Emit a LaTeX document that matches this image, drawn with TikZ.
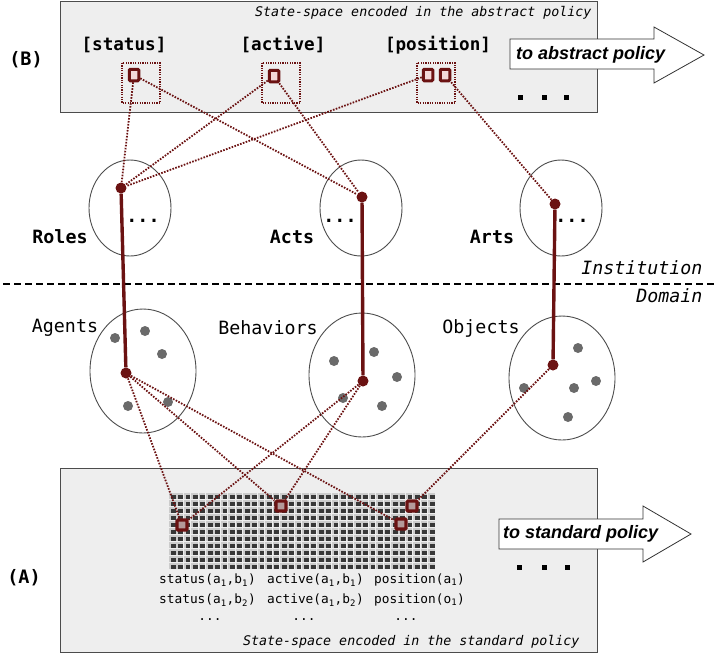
\documentclass[tikz,border=0pt]{standalone}
\usepackage{fontspec}
\setmainfont{Liberation Sans}
\setmonofont{DejaVu Sans Mono}
\usepackage{tikz}

\definecolor{boxgray}{HTML}{EEEEEE}
\definecolor{linkred}{HTML}{6B1212}
\definecolor{pinkfill}{HTML}{F4D8D8}
\definecolor{cellfill}{HTML}{B49A9A}
\definecolor{spotgray}{HTML}{6A6A6A}
\definecolor{cellgray}{HTML}{383838}

\newcommand{\lo}[1]{\textsubscript{#1}}

\begin{document}
\begin{tikzpicture}[x=1pt,y=-1pt,
  layerbox/.style={draw=black!70,fill=boxgray,line width=1pt},
  setring/.style={draw=black!70,line width=0.9pt},
  rdot/.style={circle,fill=linkred,inner sep=0pt,minimum size=11pt},
  topsq/.style={draw=linkred,fill=pinkfill,line width=3pt,inner sep=0pt,minimum width=9.5pt,minimum height=11.5pt,rounded corners=1pt},
  cellsq/.style={draw=linkred,fill=cellfill,line width=3.2pt,inner sep=0pt,minimum size=10pt,rounded corners=1pt},
  dotlink/.style={draw=linkred,line width=1.8pt,dash pattern=on 1.6pt off 1.4pt},
  solidtie/.style={draw=linkred,line width=3.4pt},
  pickbox/.style={draw=linkred,line width=1.3pt,dash pattern=on 1.2pt off 1.2pt},
  sepline/.style={line width=2.7pt,dash pattern=on 7pt off 4pt},
  flow/.style={draw=black!80,fill=white,line width=0.8pt},
  attr/.style={font=\ttfamily\bfseries\fontsize{17.6}{20}\selectfont},
  lvl/.style={font=\ttfamily\bfseries\fontsize{18.3}{20}\selectfont},
  dom/.style={font=\ttfamily\fontsize{18.3}{20}\selectfont},
  sidenote/.style={font=\ttfamily\itshape\fontsize{18.3}{20}\selectfont,anchor=east},
  capnote/.style={font=\ttfamily\itshape\fontsize{13.3}{15}\selectfont,anchor=east},
  fluent/.style={font=\ttfamily\fontsize{12.8}{14}\selectfont,anchor=west,inner sep=0pt},
  parttag/.style={font=\ttfamily\bfseries\fontsize{18.5}{20}\selectfont},
  flowtxt/.style={font=\bfseries\itshape\fontsize{18}{20}\selectfont,anchor=west,inner sep=0pt}]
\useasboundingbox (0,0) rectangle (717,657);

\draw[layerbox] (60,1) rectangle (597,112);
\node[capnote] (abscap) at (595,13) {State-space encoded in the abstract policy};
\node[parttag] (tagb) at (26,60) {(B)};
\node[attr] (tstatus) at (124,45) {[status]};
\node[attr] (tactive) at (283,45) {[active]};
\node[attr] (tposition) at (438,45) {[position]};
\draw[pickbox] (122,63) rectangle (160,103);
\draw[pickbox] (262,63) rectangle (300,103);
\draw[pickbox] (417,63) rectangle (455,103);
\node[topsq] (sqstatus) at (134,75) {};
\node[topsq] (sqactive) at (274,76) {};
\node[topsq] (sqposa) at (428,75) {};
\node[topsq] (sqposb) at (445,75) {};
\draw[flow] (510,39) -- (654,39) -- (654,27) -- (704,55) -- (654,83) -- (654,69) -- (510,69) -- cycle;
\node[flowtxt] (toabs) at (516,55) {to abstract policy};
\foreach \x in {520,544,566}
  \fill (\x-2.5,94.5) rectangle ++(5,5);

\draw[setring] (130,208) ellipse (41 and 48);
\draw[setring] (361,208) ellipse (41 and 48);
\draw[setring] (561,208) ellipse (41 and 48);
\node[lvl] (rolestxt) at (60,237) {Roles};
\node[lvl] (actstxt) at (292,237) {Acts};
\node[lvl] (artstxt) at (492,237) {Arts};
\node[lvl,anchor=base] (rolesmore) at (143,222) {...};
\node[lvl,anchor=base] (actsmore) at (340,222) {...};
\node[lvl,anchor=base] (artsmore) at (572,222) {...};

\draw[sepline] (3,284) -- (717,284);
\node[sidenote] (inst) at (706,268) {Institution};
\node[sidenote] (domn) at (706,296) {Domain};

\draw[setring] (143,371) ellipse (53 and 62);
\draw[setring] (362,375) ellipse (53 and 62);
\draw[setring] (562,378) ellipse (53 and 62);
\node[dom] (agentstxt) at (65,328) {Agents};
\node[dom] (behavtxt) at (268,328) {Behaviors};
\node[dom] (objstxt) at (481,328) {Objects};
\foreach \p in {(115,338),(145,331),(162,354),(128,406),(168,402),
                (334,361),(374,352),(397,377),(343,398),(382,406),
                (578,348),(596,381),(574,388),(524,388),(568,417)}
  \fill[spotgray] \p circle (5);

\draw[layerbox] (60,468) rectangle (597,652);
\foreach \i in {0,...,35}
  \foreach \j in {0,...,10} {
    \fill[gray!40] (169+\i*7.4,493+\j*7) rectangle ++(6.6,6.4);
    \fill[cellgray] (170.8+\i*7.4,494.6+\j*7) rectangle ++(4.8,4.8);
  }
\node[cellsq] (gstatus) at (182,525) {};
\node[cellsq] (gactive) at (281,506) {};
\node[cellsq] (gposa) at (412,506) {};
\node[cellsq] (gposb) at (401,524) {};
\node[fluent] (st1) at (159,580) {status(a\lo{1},b\lo{1})};
\node[fluent] (st2) at (159,600) {status(a\lo{1},b\lo{2})};
\node[fluent] (ac1) at (267,580) {active(a\lo{1},b\lo{1})};
\node[fluent] (ac2) at (267,600) {active(a\lo{1},b\lo{2})};
\node[fluent] (po1) at (374,580) {position(a\lo{1})};
\node[fluent] (po2) at (374,600) {position(o\lo{1})};
\node[fluent,anchor=base] (stmore) at (210,620) {...};
\node[fluent,anchor=base] (acmore) at (304,620) {...};
\node[fluent,anchor=base] (pomore) at (406,620) {...};
\node[capnote] (stdcap) at (583,642) {State-space encoded in the standard policy};
\node[parttag] (taga) at (24,578) {(A)};
\draw[flow] (499,519) -- (643,519) -- (643,506) -- (691,534) -- (643,562) -- (643,549) -- (499,549) -- cycle;
\node[flowtxt] (tostd) at (503,534) {to standard policy};
\foreach \x in {519,544,567}
  \fill (\x-2.5,564.5) rectangle ++(5,5);

\node[rdot] (roles) at (121,188) {};
\node[rdot] (acts) at (362,197) {};
\node[rdot] (arts) at (555,204) {};
\node[rdot] (agents) at (126,373) {};
\node[rdot] (behav) at (363,381) {};
\node[rdot] (objs) at (553,365) {};

\draw[dotlink] (sqstatus) -- (roles);
\draw[dotlink] (sqstatus) -- (acts);
\draw[dotlink] (sqactive) -- (roles);
\draw[dotlink] (sqactive) -- (acts);
\draw[dotlink] (sqposa) -- (roles);
\draw[dotlink] (sqposb) -- (arts);

\draw[solidtie] (roles) -- (agents);
\draw[solidtie] (acts) -- (behav);
\draw[solidtie] (arts) -- (objs);

\draw[dotlink] (agents) -- (gstatus);
\draw[dotlink] (agents) -- (gactive);
\draw[dotlink] (agents) -- (gposb);
\draw[dotlink] (behav) -- (gstatus);
\draw[dotlink] (behav) -- (gactive);
\draw[dotlink] (objs) -- (gposa);
\end{tikzpicture}
\end{document}
